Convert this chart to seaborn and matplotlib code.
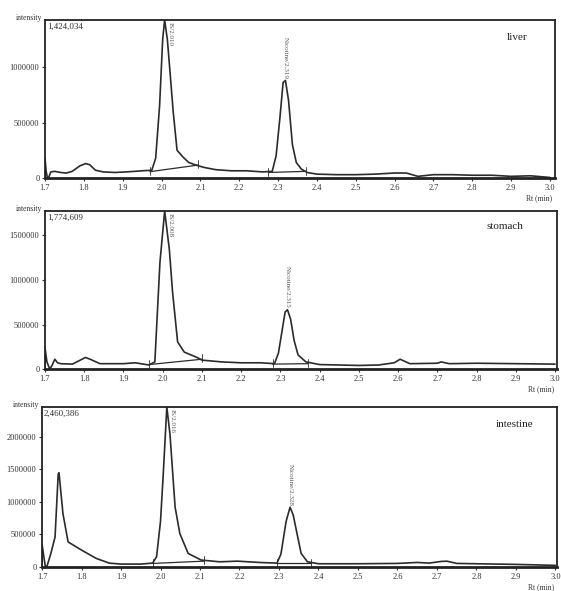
import pandas as pd
import matplotlib.pyplot as plt
import seaborn as sns

# Chromatograms of three tissues (Rt in min, intensity)
tissues = ['liver', 'stomach', 'intestine']
max_int = [1424034, 1774609, 2460386]
max_txt = ['1,424,034', '1,774,609', '2,460,386']

liver_rt = [1.700, 1.700, 1.703, 1.706, 1.710, 1.715, 1.725, 1.740, 1.755, 1.770, 1.790, 1.805,
            1.815, 1.830, 1.850, 1.880, 1.910, 1.950, 1.975, 1.985, 1.995, 2.003, 2.008, 2.015,
            2.022, 2.030, 2.040, 2.055, 2.070, 2.090, 2.110, 2.140, 2.180, 2.220, 2.260, 2.285,
            2.295, 2.305, 2.313, 2.319, 2.327, 2.337, 2.347, 2.360, 2.375, 2.400, 2.450, 2.500,
            2.550, 2.600, 2.630, 2.660, 2.700, 2.750, 2.800, 2.850, 2.900, 2.950, 3.000]
liver_int = [0, 180000, 60000, 5000, 10000, 55000, 60000, 50000, 45000, 60000, 110000, 130000,
             120000, 70000, 55000, 50000, 55000, 65000, 70000, 180000, 650000, 1250000, 1424034, 1250000,
             950000, 600000, 250000, 190000, 140000, 115000, 95000, 75000, 65000, 65000, 55000, 60000,
             200000, 550000, 860000, 880000, 700000, 300000, 140000, 80000, 50000, 35000, 30000, 30000,
             35000, 45000, 45000, 15000, 30000, 30000, 25000, 25000, 15000, 20000, 5000]

stomach_rt = [1.700, 1.700, 1.705, 1.712, 1.718, 1.725, 1.732, 1.740, 1.770, 1.790, 1.803, 1.815,
              1.840, 1.900, 1.930, 1.965, 1.980, 1.993, 2.005, 2.017, 2.025, 2.038, 2.055, 2.090,
              2.100, 2.150, 2.200, 2.250, 2.285, 2.295, 2.305, 2.312, 2.318, 2.326, 2.335, 2.345,
              2.365, 2.400, 2.500, 2.550, 2.590, 2.605, 2.630, 2.700, 2.710, 2.730, 2.800, 2.900,
              3.000]
stomach_int = [0, 237000, 80000, 0, 40000, 110000, 70000, 60000, 55000, 100000, 130000, 110000,
               60000, 60000, 70000, 45000, 80000, 1200000, 1774609, 1340000, 870000, 305000, 190000, 125000,
               100000, 80000, 70000, 70000, 60000, 180000, 450000, 640000, 666000, 560000, 320000, 158000,
               80000, 50000, 40000, 45000, 70000, 110000, 60000, 65000, 80000, 60000, 65000, 60000,
               55000]

intestine_rt = [1.700, 1.700, 1.708, 1.712, 1.722, 1.733, 1.741, 1.743, 1.753, 1.766, 1.800, 1.837,
                1.870, 1.900, 1.950, 1.980, 1.990, 2.000, 2.007, 2.016, 2.024, 2.037, 2.049, 2.070,
                2.103, 2.150, 2.195, 2.250, 2.295, 2.305, 2.318, 2.328, 2.336, 2.356, 2.372, 2.400,
                2.500, 2.600, 2.650, 2.680, 2.710, 2.725, 2.750, 2.800, 2.900, 3.000]
intestine_int = [0, 350000, 20000, 0, 200000, 460000, 1430000, 1450000, 820000, 386000, 260000, 133000,
                 60000, 45000, 45000, 60000, 157000, 700000, 1430000, 2460386, 2040000, 920000, 514000, 209000,
                 107000, 80000, 90000, 70000, 60000, 200000, 700000, 920000, 800000, 210000, 80000, 50000,
                 50000, 55000, 70000, 60000, 85000, 90000, 55000, 50000, 40000, 25000]

traces = [(liver_rt, liver_int), (stomach_rt, stomach_int), (intestine_rt, intestine_int)]

# integration baselines drawn under the two peaks
base_rt = [[(1.970, 2.095), (2.275, 2.372)],
           [(1.965, 2.100), (2.280, 2.370)],
           [(1.980, 2.110), (2.295, 2.380)]]
base_int = [[(57000, 117000), (50000, 60000)],
            [(50000, 110000), (55000, 60000)],
            [(55000, 90000), (55000, 55000)]]

# peak labels
is_rt = [2.008, 2.005, 2.016]
is_txt = ['IS/2.010', 'IS/2.008', 'IS/2.016']
an_rt = [2.319, 2.318, 2.328]
an_top = [880000, 666000, 920000]
an_txt = ['Nicotine/2.319', 'Nicotine/2.315', 'Nicotine/2.328']

y_ticks = [[0, 500000, 1000000],
           [0, 500000, 1000000, 1500000],
           [0, 500000, 1000000, 1500000, 2000000]]
x_ticks = [1.7, 1.8, 1.9, 2.0, 2.1, 2.2, 2.3, 2.4, 2.5, 2.6, 2.7, 2.8, 2.9, 3.0]
x_tick_txt = ['1.7', '1.8', '1.9', '2.0', '2.1', '2.2', '2.3', '2.4', '2.5', '2.6', '2.7', '2.8', '2.9', '3.0']

sns.set_theme(style='white')
plt.rcParams['font.family'] = ['Liberation Serif', 'DejaVu Serif']

fig = plt.figure(figsize=(5.61, 5.91), dpi=100)
boxes = [[0.0802, 0.6988, 0.9091, 0.2673],
         [0.0802, 0.3756, 0.9127, 0.2673],
         [0.0749, 0.0406, 0.9180, 0.2707]]
x_max = [3.013, 3.005, 3.004]
name_pos = [(0.905, 0.89), (0.863, 0.90), (0.882, 0.89)]
line_col = '#2b2b2b'

for i, name in enumerate(tissues):
    ax = fig.add_axes(boxes[i])
    rt, inten = traces[i]
    df = pd.DataFrame({'rt': rt, 'intensity': inten})
    sns.lineplot(data=df, x='rt', y='intensity', sort=False, estimator=None,
                 color=line_col, linewidth=1.2, ax=ax)
    for (r0, r1), (v0, v1) in zip(base_rt[i], base_int[i]):
        ax.plot([r0, r1], [v0, v1], color=line_col, linewidth=0.9)
        for r, v in ((r0, v0), (r1, v1)):
            ax.plot([r, r], [v - 0.02 * max_int[i], v + 0.03 * max_int[i]],
                    color=line_col, linewidth=0.6)

    ax.set_xlim(1.7, x_max[i])
    ax.set_ylim(0, max_int[i])
    ax.set_xticks(x_ticks)
    ax.set_xticklabels(x_tick_txt)
    ax.set_yticks(y_ticks[i])
    ax.set_yticklabels([str(t) for t in y_ticks[i]])
    ax.tick_params(axis='both', labelsize=6, length=2, width=0.8, direction='out',
                   pad=2, colors='#333333', bottom=True, left=True)
    ax.set_xlabel('')
    ax.set_ylabel('')
    for side in ['top', 'right', 'left']:
        ax.spines[side].set_linewidth(1.3)
        ax.spines[side].set_color('#222222')
    ax.spines['bottom'].set_linewidth(2.0)
    ax.spines['bottom'].set_color('#222222')

    ax.text(-0.005, 1.015, 'intensity', transform=ax.transAxes, ha='right', va='center',
            fontsize=5.5, color='#333333')
    ax.text(0.004, 0.985, max_txt[i], transform=ax.transAxes, ha='left', va='top',
            fontsize=6.5, color='#333333')
    ax.text(name_pos[i][0], name_pos[i][1], name, transform=ax.transAxes, ha='left',
            va='center', fontsize=8, color='#222222')
    ax.text(0.995, -0.125, 'Rt (min)', transform=ax.transAxes, ha='right', va='center',
            fontsize=5.5, color='#333333')

    ax.text(is_rt[i] + 0.014, max_int[i] * 0.99, is_txt[i], rotation=-90, ha='center',
            va='top', fontsize=5, color='#555555')
    ax.text(an_rt[i], an_top[i] + 0.01 * max_int[i], an_txt[i], rotation=-90, ha='center',
            va='bottom', fontsize=5, color='#555555')

fig.savefig('out.png', dpi=100)
